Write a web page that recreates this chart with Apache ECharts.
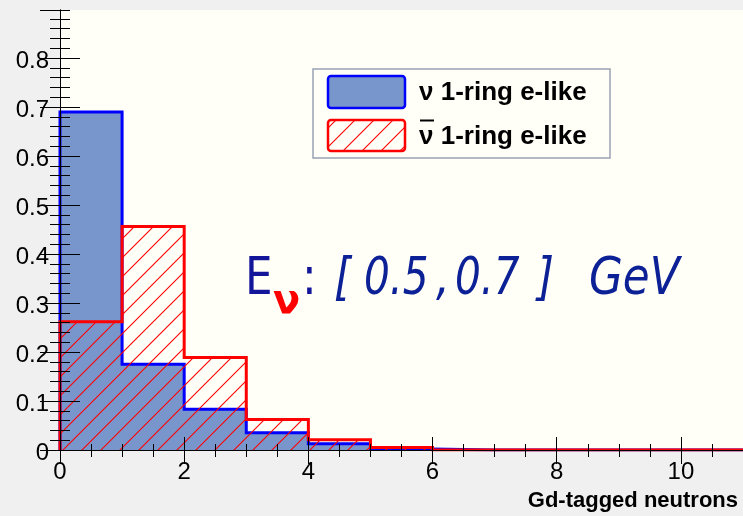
<!DOCTYPE html>
<html>
<head>
<meta charset="utf-8">
<script src="https://cdn.jsdelivr.net/npm/echarts@6/dist/echarts.min.js"></script>
<style>
  html, body { margin: 0; padding: 0; background: #f0f0f0; }
  #chart { width: 743px; height: 516px; }
</style>
</head>
<body>
<div id="chart"></div>
<script>
// ---- data ----
const binLow = [0, 1, 2, 3, 4, 5, 6, 7, 8, 9, 10];
const binWidth = 1;
const nuValues = [0.690, 0.175, 0.083, 0.035, 0.013, 0.002, 0, 0, 0, 0, 0];
const nubarValues = [0.262, 0.456, 0.189, 0.062, 0.021, 0.005, 0, 0, 0, 0, 0];
const xTickLabels = [0, 2, 4, 6, 8, 10];
const yTickLabels = [0, 0.1, 0.2, 0.3, 0.4, 0.5, 0.6, 0.7, 0.8];
const seriesNames = ['ν 1-ring e-like', 'ν 1-ring e-like'];
const xTitle = 'Gd-tagged neutrons';

// ---- helpers ----
function stepPoints(lows, w, vals) {
  const pts = [[lows[0], 0]];
  for (let i = 0; i < vals.length; i++) {
    pts.push([lows[i], vals[i]]);
    pts.push([lows[i] + w, vals[i]]);
  }
  pts.push([lows[lows.length - 1] + w, 0]);
  return pts;
}
function hatchCanvas(s) {
  const c = document.createElement('canvas');
  c.width = s; c.height = s;
  const g = c.getContext('2d');
  g.strokeStyle = '#ff0000';
  g.lineWidth = 1.1;
  g.beginPath();
  g.moveTo(-1, s + 1); g.lineTo(s + 1, -1);
  g.moveTo(-2, 2); g.lineTo(2, -2);
  g.moveTo(s - 2, s + 2); g.lineTo(s + 2, s - 2);
  g.stroke();
  return c;
}
const hatch = hatchCanvas(19);

const blueFill = '#7896cc';
const numFont = { fontFamily: 'Liberation Sans', fontSize: 24, color: '#000' };

const xMax = 11, yMax = 0.898;

function xAx(pos, interval, len, labels, line) {
  return {
    type: 'value', position: pos, min: 0, max: xMax, interval: interval, z: 10,
    axisLine: { show: line, lineStyle: { color: '#000', width: 1 } },
    axisTick: { show: true, inside: true, length: len, lineStyle: { color: '#000', width: 1 } },
    axisLabel: labels ? Object.assign({ show: true, margin: 10, showMaxLabel: false,
      formatter: v => (xTickLabels.indexOf(v) >= 0 ? String(v) : '') }, numFont) : { show: false },
    splitLine: { show: false }
  };
}
function yAx(pos, interval, len, labels, line) {
  return {
    type: 'value', position: pos, min: 0, max: yMax, interval: interval, z: 10,
    axisLine: { show: line, lineStyle: { color: '#000', width: 1 } },
    axisTick: { show: true, inside: true, length: len, lineStyle: { color: '#000', width: 1 } },
    axisLabel: labels ? Object.assign({ show: true, margin: 11, showMaxLabel: false,
      verticalAlign: 'top', lineHeight: 6,
      formatter: v => { const r = Math.round(v * 10) / 10; return yTickLabels.indexOf(r) >= 0 ? String(r) : ''; } }, numFont) : { show: false },
    splitLine: { show: false }
  };
}

const bigFont = { fontFamily: 'DejaVu Sans', fontSize: 52 };
function bigText(str, x, y, fill, italic, sx) {
  return {
    type: 'text', x: x, y: y, scaleX: sx || 0.84, z: 20,
    style: Object.assign({ text: str, fill: fill, align: 'left', verticalAlign: 'middle',
      fontStyle: italic ? 'italic' : 'normal' }, bigFont)
  };
}
const navy = '#14169a';
const italBlue = '#0d2196';

const option = {
  backgroundColor: '#f0f0f0',
  animation: false,
  grid: { left: 60, top: 10, width: 685, height: 440, show: true, backgroundColor: '#fffff8', borderWidth: 0 },
  xAxis: [
    xAx('bottom', 2, 13, true, true),
    xAx('bottom', 0.5, 6, false, false),
    xAx('top', 2, 14, false, true),
    xAx('top', 0.5, 7, false, false)
  ],
  yAxis: [
    yAx('left', 0.1, 20, true, true),
    yAx('left', 0.02, 10, false, false),
    yAx('right', 0.1, 20, false, true),
    yAx('right', 0.02, 10, false, false)
  ],
  series: [
    {
      name: seriesNames[0], type: 'line', xAxisIndex: 0, yAxisIndex: 0, z: 2,
      data: stepPoints(binLow, binWidth, nuValues),
      showSymbol: false, symbol: 'none',
      lineStyle: { color: '#0000ff', width: 3, join: 'miter' },
      areaStyle: { color: blueFill, opacity: 1 }
    },
    {
      name: seriesNames[1], type: 'line', xAxisIndex: 0, yAxisIndex: 0, z: 3,
      data: stepPoints(binLow, binWidth, nubarValues),
      showSymbol: false, symbol: 'none',
      lineStyle: { color: '#ff0000', width: 3, join: 'miter' },
      areaStyle: { color: { image: hatch, repeat: 'repeat' }, opacity: 1 }
    }
  ],
  graphic: [
    // legend box
    { type: 'rect', z: 20, shape: { x: 313, y: 69, width: 297, height: 89 },
      style: { fill: '#fffff8', stroke: '#9aa2b2', lineWidth: 1.5 } },
    { type: 'rect', z: 21, shape: { x: 328, y: 76, width: 77, height: 32, r: 3 },
      style: { fill: blueFill, stroke: '#0000ff', lineWidth: 2.5 } },
    { type: 'rect', z: 21, shape: { x: 328, y: 120, width: 77, height: 31, r: 3 },
      style: { fill: { image: hatch, repeat: 'repeat' }, stroke: '#ff0000', lineWidth: 2.5 } },
    { type: 'text', z: 21, x: 419, y: 93,
      style: { text: seriesNames[0], fill: '#000', fontFamily: 'Liberation Sans', fontWeight: 'bold', fontSize: 26, align: 'left', verticalAlign: 'middle' } },
    { type: 'text', z: 21, x: 419, y: 137,
      style: { text: seriesNames[1], fill: '#000', fontFamily: 'Liberation Sans', fontWeight: 'bold', fontSize: 26, align: 'left', verticalAlign: 'middle' } },
    // anti-neutrino bar
    { type: 'line', z: 21, shape: { x1: 420, y1: 120.5, x2: 434, y2: 120.5 },
      style: { stroke: '#000', lineWidth: 2 } },
    // x-axis title
    { type: 'text', z: 21, x: 738, y: 501,
      style: { text: xTitle, fill: '#000', fontFamily: 'Liberation Sans', fontWeight: 'bold', fontSize: 22, align: 'right', verticalAlign: 'middle' } },
    // energy annotation
    bigText('E', 245, 280, navy, false),
    { type: 'text', x: 273, y: 303, z: 20,
      style: { text: 'ν', fill: '#ff0000', fontFamily: 'DejaVu Sans', fontWeight: 'bold', fontSize: 40, align: 'left', verticalAlign: 'middle' } },
    bigText(':', 302, 280, navy, false),
    bigText('[', 334, 280, italBlue, true),
    bigText('0.5', 364, 280, italBlue, true, 0.78),
    bigText(',', 436, 280, italBlue, true),
    bigText('0.7', 455, 280, italBlue, true, 0.78),
    bigText(']', 537, 280, italBlue, true),
    bigText('GeV', 589, 280, italBlue, true)
  ]
};

const chart = echarts.init(document.getElementById('chart'), null, { renderer: 'canvas' });
chart.setOption(option);
</script>
</body>
</html>
